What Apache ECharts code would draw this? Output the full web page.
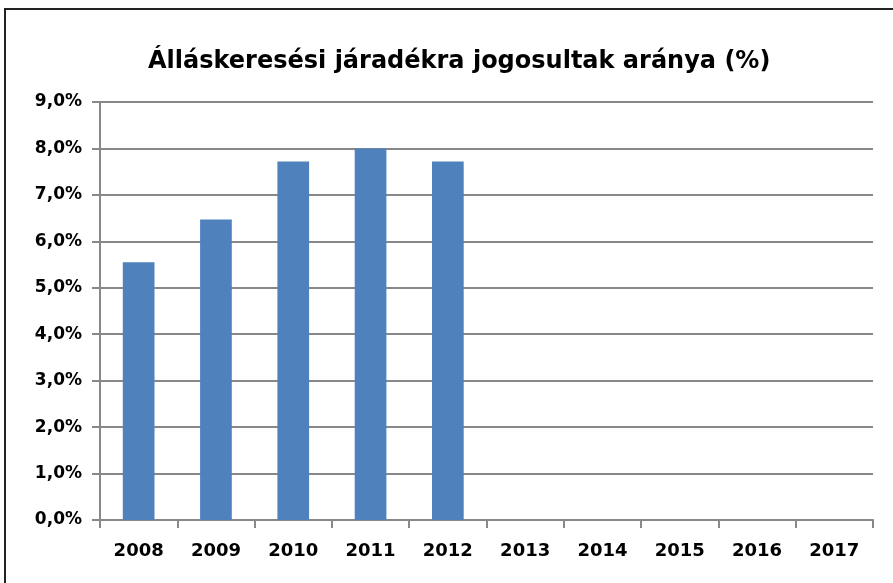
<!DOCTYPE html>
<html>
<head>
<meta charset="utf-8">
<script src="https://cdn.jsdelivr.net/npm/echarts@6/dist/echarts.min.js"></script>
<style>
  body { margin: 0; background: #fff; overflow: hidden; }
  #frame { position: absolute; left: 4px; top: 8px; width: 900px; height: 600px; border-left: 2px solid #222; border-top: 2px solid #222; }
  #chart { position: absolute; left: 0; top: 0; width: 893px; height: 583px; }
</style>
</head>
<body>
<div id="frame"></div>
<div id="chart"></div>
<script>
var years = ['2008', '2009', '2010', '2011', '2012', '2013', '2014', '2015', '2016', '2017'];
var rates = [5.55, 6.47, 7.72, 8.0, 7.72, null, null, null, null, null];
var titleText = 'Álláskeresési járadékra jogosultak aránya (%)';

var mychart = echarts.init(document.getElementById('chart'));
var option = {
    animation: false,
    title: {
        text: titleText,
        left: 143,
        top: 45,
        textStyle: {
            fontFamily: 'DejaVu Sans',
            fontWeight: 'bold',
            fontSize: 24,
            color: '#000'
        }
    },
    grid: {
        left: 100,
        right: 20,
        top: 102,
        bottom: 63
    },
    xAxis: {
        type: 'category',
        data: years,
        axisLine: { lineStyle: { color: '#888', width: 2 } },
        axisTick: { show: true, length: 8, lineStyle: { color: '#888', width: 2 } },
        axisLabel: {
            margin: 22,
            color: '#000',
            fontFamily: 'DejaVu Sans',
            fontWeight: 'bold',
            fontSize: 18
        }
    },
    yAxis: {
        type: 'value',
        min: 0,
        max: 9,
        interval: 1,
        axisLine: { show: true, lineStyle: { color: '#888', width: 2 } },
        axisTick: { show: true, length: 8, lineStyle: { color: '#888', width: 2 } },
        splitLine: { lineStyle: { color: '#888', width: 2 } },
        axisLabel: {
            margin: 18,
            color: '#000',
            fontFamily: 'DejaVu Sans',
            fontWeight: 'bold',
            fontSize: 17,
            formatter: function (v) {
                return v.toFixed(1).replace('.', ',') + '%';
            }
        }
    },
    series: [{
        type: 'bar',
        data: rates,
        barWidth: '41%',
        itemStyle: { color: '#4f81bd' }
    }]
};
mychart.setOption(option);
</script>
</body>
</html>
